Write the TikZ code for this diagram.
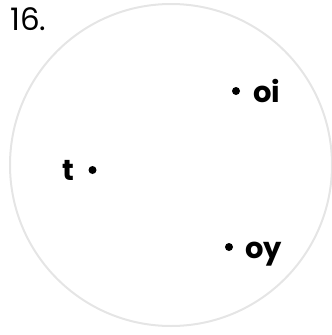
\documentclass[tikz,border=0pt]{standalone}
\usepackage{fontspec}
\setmainfont{Poppins}
\usetikzlibrary{positioning}
\definecolor{RingClr}{rgb}{0.9,0.9,0.9}

\begin{document}
\begin{tikzpicture}[x=1pt,y=-1pt,
  dot/.style={circle,fill=black,inner sep=0pt,minimum size=8pt},
  lbl/.style={font=\fontsize{29}{32}\selectfont\bfseries,inner sep=0pt}]
\useasboundingbox (0,0) rectangle (332,335);

\draw[RingClr,line width=2pt] (171,165) circle (161);

\node[anchor=base west,inner sep=0pt,font=\fontsize{31}{34}\selectfont] (num) at (10,30) {16.};

\node[dot] (oi) at (236,91) {};
\node[dot] (t) at (92.5,170) {};
\node[dot] (oy) at (229,247) {};

\node[lbl,anchor=base west,xshift=13pt,yshift=-11pt] (oiLbl) at (oi.east) {oi};
\node[lbl,anchor=base east,xshift=-14pt,yshift=-10pt] (tLbl) at (t.west) {t};
\node[lbl,anchor=base west,xshift=12pt,yshift=-11pt] (oyLbl) at (oy.east) {oy};

\end{tikzpicture}
\end{document}
